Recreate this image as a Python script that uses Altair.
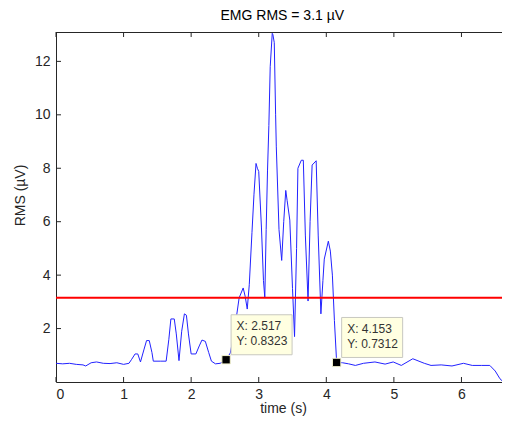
import altair as alt
import pandas as pd

# ---- data ----
time_s = [0.00, 0.10, 0.20, 0.30, 0.40, 0.44, 0.52, 0.60, 0.70, 0.80, 0.90, 1.00,
          1.08, 1.12, 1.17, 1.21, 1.25, 1.30, 1.34, 1.38, 1.42, 1.44, 1.55, 1.63,
          1.67, 1.70, 1.75, 1.78, 1.82, 1.86, 1.90, 1.93, 1.96, 2.00, 2.07, 2.12,
          2.16, 2.21, 2.26, 2.30, 2.36, 2.43, 2.517, 2.58, 2.64, 2.71, 2.77, 2.80,
          2.83, 2.86, 2.90, 2.93, 2.96, 2.98, 3.00, 3.04, 3.07, 3.09, 3.11, 3.13,
          3.15, 3.17, 3.20, 3.21, 3.23, 3.25, 3.26, 3.30, 3.34, 3.37, 3.40, 3.42,
          3.46, 3.50, 3.53, 3.56, 3.58, 3.63, 3.66, 3.69, 3.73, 3.76, 3.79, 3.85,
          3.88, 3.92, 3.95, 3.97, 4.03, 4.06, 4.09, 4.12, 4.153, 4.24, 4.33, 4.43,
          4.55, 4.72, 4.87, 4.99, 5.11, 5.28, 5.45, 5.55, 5.70, 5.86, 6.03, 6.16,
          6.30, 6.42, 6.50, 6.57, 6.60]
rms_uv = [0.70, 0.68, 0.70, 0.66, 0.64, 0.60, 0.72, 0.75, 0.70, 0.69, 0.72, 0.66,
          0.70, 0.85, 1.05, 1.05, 0.75, 1.20, 1.55, 1.55, 1.10, 0.78, 0.78, 0.78,
          1.60, 2.36, 2.36, 1.80, 0.80, 1.90, 2.55, 2.50, 1.80, 1.05, 1.05, 1.35,
          1.57, 1.52, 1.10, 0.78, 0.68, 0.70, 0.8323, 1.09, 1.90, 3.15, 3.52, 3.20,
          2.73, 3.64, 5.60, 7.03, 8.18, 8.00, 7.88, 5.80, 3.80, 3.15, 5.70, 7.90,
          9.60, 11.80, 13.05, 13.00, 12.70, 10.00, 8.80, 5.70, 4.55, 6.00, 7.17, 6.80,
          6.06, 3.50, 1.70, 5.00, 8.00, 8.30, 8.30, 5.50, 3.03, 6.00, 8.12, 8.28,
          5.50, 2.55, 3.80, 4.60, 5.27, 4.90, 4.00, 2.30, 0.7312, 0.72, 0.68, 0.62,
          0.70, 0.75, 0.67, 0.75, 0.62, 0.87, 0.70, 0.62, 0.64, 0.60, 0.70, 0.62,
          0.62, 0.62, 0.41, 0.12, 0.05]
threshold = [3.15]
title_text = ["EMG RMS = 3.1 µV"]
tip_x = [2.517, 4.153]
tip_y = [0.8323, 0.7312]
tip_line1 = ["X: 2.517", "X: 4.153"]
tip_line2 = ["Y: 0.8323", "Y: 0.7312"]
x_ticks = [0, 1, 2, 3, 4, 5, 6]
y_ticks = [2, 4, 6, 8, 10, 12]

W, H = 446, 350
FONT = "Liberation Sans"
AX = "#262626"

sig = pd.DataFrame({"t": time_s, "rms": rms_uv})
thr = pd.DataFrame({"v": threshold})
ttl = pd.DataFrame({"s": title_text})
tips = pd.DataFrame({"x": tip_x, "y": tip_y, "l1": tip_line1, "l2": tip_line2})
xt = pd.DataFrame({"v": x_ticks})
yt = pd.DataFrame({"v": y_ticks})

xs = alt.Scale(domain=[0, 6.6], nice=False, zero=False)
ys = alt.Scale(domain=[0, 13.1], nice=False, zero=False)

line = alt.Chart(sig).mark_line(color="#2222ff", strokeWidth=1, clip=True).encode(
    x=alt.X("t:Q", scale=xs, axis=alt.Axis(
        values=x_ticks, format="d", ticks=False, tickSize=0, grid=False,
        domainColor=AX, labelColor=AX, labelFont=FONT, labelFontSize=14,
        labelPadding=5, title="time (s)", titleFont=FONT, titleFontSize=14,
        titleFontWeight="normal", titleColor=AX, titleX=W / 2 + 4, titleY=26,
        titleAlign="center", titleBaseline="middle")),
    y=alt.Y("rms:Q", scale=ys, axis=alt.Axis(
        values=y_ticks, format="d", ticks=False, tickSize=0, grid=False,
        domainColor=AX, labelColor=AX, labelFont=FONT, labelFontSize=14,
        labelPadding=6, title="RMS (µV)", titleFont=FONT, titleFontSize=14,
        titleFontWeight="normal", titleColor=AX, titleX=-35.5, titleY=163,
        titleAngle=270, titleAlign="center", titleBaseline="middle")),
)

red = alt.Chart(thr).mark_rule(color="#ff0000", strokeWidth=2).encode(y=alt.Y("v:Q", scale=ys))

top_border = alt.Chart(thr).mark_rule(color=AX, strokeWidth=1).encode(
    x=alt.value(0), x2=alt.value(W), y=alt.value(0.5))

title_mark = alt.Chart(ttl).mark_text(align="center", baseline="alphabetic",
                                      font=FONT, fontSize=14, color="#000000").encode(
    x=alt.value(W / 2 + 3.3), y=alt.value(-12), text="s:N")

xb_ticks = alt.Chart(xt).mark_rule(color=AX).encode(
    x=alt.X("v:Q", scale=xs), y=alt.value(H), y2=alt.value(H - 5))
xtop_ticks = alt.Chart(xt).mark_rule(color=AX).encode(
    x=alt.X("v:Q", scale=xs), y=alt.value(0), y2=alt.value(5))
yl_ticks = alt.Chart(yt).mark_rule(color=AX).encode(
    y=alt.Y("v:Q", scale=ys), x=alt.value(0), x2=alt.value(5))

box = alt.Chart(tips).mark_rect(
    fill="#ffffe1", stroke="#c8c8c0", strokeWidth=1,
    xOffset=5, x2Offset=66, yOffset=-5, y2Offset=-45).encode(
    x=alt.X("x:Q", scale=xs), x2="x:Q", y=alt.Y("y:Q", scale=ys), y2="y:Q")

t1 = alt.Chart(tips).mark_text(align="left", baseline="middle", dx=10.5, dy=-33.5,
                               font=FONT, fontSize=12, color="#333333").encode(
    x=alt.X("x:Q", scale=xs), y=alt.Y("y:Q", scale=ys), text="l1:N")
t2 = alt.Chart(tips).mark_text(align="left", baseline="middle", dx=10.5, dy=-18.5,
                               font=FONT, fontSize=12, color="#333333").encode(
    x=alt.X("x:Q", scale=xs), y=alt.Y("y:Q", scale=ys), text="l2:N")

marks = alt.Chart(tips).mark_square(size=70, filled=True, color="#000000",
                                    stroke="#f4f4d0", strokeWidth=1, opacity=1).encode(
    x=alt.X("x:Q", scale=xs), y=alt.Y("y:Q", scale=ys))

chart = alt.layer(line, red, top_border, xb_ticks, xtop_ticks, yl_ticks,
                  box, t1, t2, marks, title_mark).properties(
    width=W, height=H,
    autosize=alt.AutoSizeParams(type="none"),
    padding={"left": 48, "top": 24, "right": 0, "bottom": 36},
).configure_view(stroke=None).configure(background="#ffffff")

chart.save("out.html", embed_options={"renderer": "svg", "actions": False})
